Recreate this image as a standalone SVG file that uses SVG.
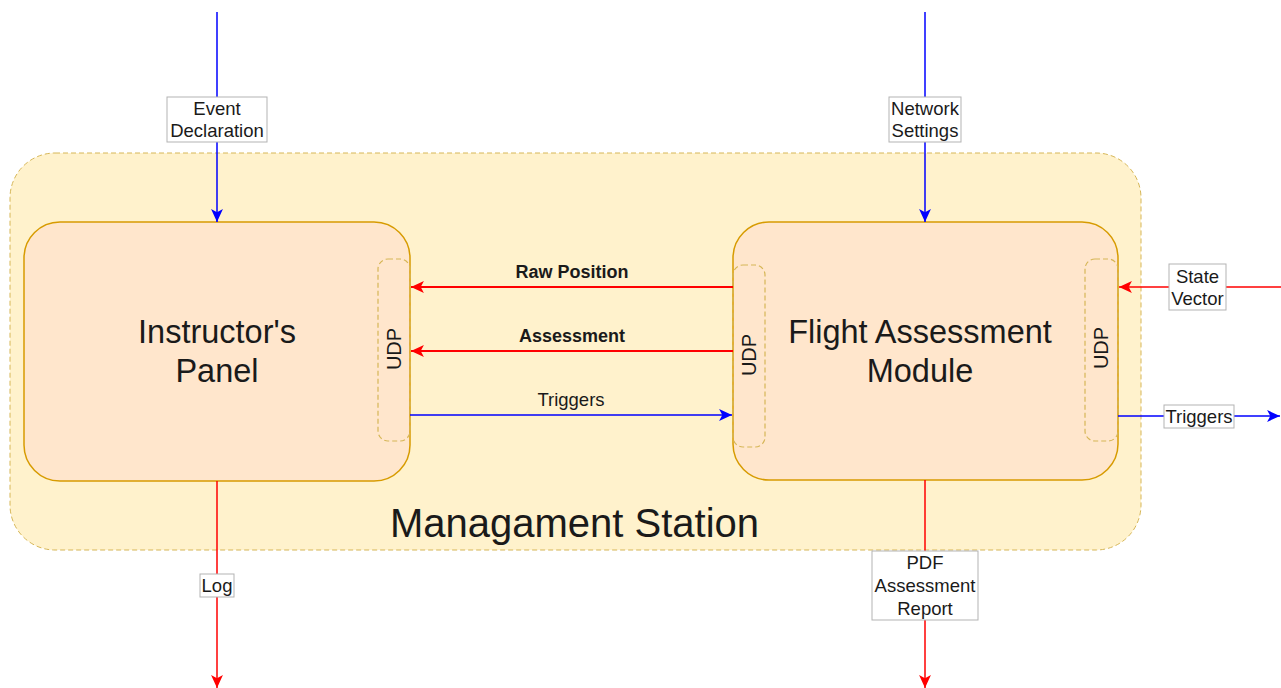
<svg xmlns="http://www.w3.org/2000/svg" width="1281" height="688" viewBox="0 0 1281 688">
  <style>
    text { font-family: "Liberation Sans", Arial, sans-serif; fill: #1a1a1a; }
    .station { fill: #fff2cc; stroke: #d6b656; stroke-width: 1; stroke-dasharray: 5 3; }
    .module { fill: #ffe6cc; stroke: #d79b00; stroke-width: 1.5; }
    .port { fill: none; stroke: #d6b656; stroke-width: 1.2; stroke-dasharray: 5 3; }
    .big { font-size: 32.5px; text-anchor: middle; }
    .title { font-size: 40px; text-anchor: middle; }
    .udp { font-size: 20px; text-anchor: middle; }
    .lbl { font-size: 18.5px; text-anchor: middle; }
    .lblb { font-size: 18px; font-weight: bold; text-anchor: middle; }
    .box { fill: #ffffff; stroke: #b3b3b3; stroke-width: 1; }
    .blue { stroke: #0000ff; stroke-width: 1.5; fill: none; }
    .red { stroke: #ff0000; stroke-width: 1.5; fill: none; }
    .redb { stroke: #ff0000; stroke-width: 2; fill: none; }
  </style>
  <defs>
    <marker id="ab" markerUnits="userSpaceOnUse" markerWidth="14" markerHeight="14" viewBox="0 0 13 12" refX="12" refY="6" orient="auto">
      <path d="M0,0.5 L12,6 L0,11.5 L3,6 z" fill="#0000ff"/>
    </marker>
    <marker id="ar" markerUnits="userSpaceOnUse" markerWidth="14" markerHeight="14" viewBox="0 0 13 12" refX="12" refY="6" orient="auto">
      <path d="M0,0.5 L12,6 L0,11.5 L3,6 z" fill="#ff0000"/>
    </marker>
  </defs>

  <!-- Management station container -->
  <g id="station">
    <rect class="station" x="10" y="153" width="1131" height="397" rx="45" ry="45"/>
    <text class="title" x="574.5" y="537">Managament Station</text>
  </g>

  <!-- Instructor's panel -->
  <g id="instructor-panel">
    <rect class="module" x="24" y="222" width="386" height="259" rx="36" ry="36"/>
    <text class="big" x="217" y="343">Instructor's</text>
    <text class="big" x="217" y="382">Panel</text>
  </g>
  <g id="instructor-udp">
    <rect class="port" x="378" y="259" width="32" height="182" rx="10" ry="10"/>
    <text class="udp" transform="translate(401 349) rotate(-90)">UDP</text>
  </g>

  <!-- Flight assessment module -->
  <g id="flight-assessment-module">
    <rect class="module" x="733" y="222" width="385" height="258" rx="36" ry="36"/>
    <text class="big" x="920" y="343">Flight Assessment</text>
    <text class="big" x="920" y="382">Module</text>
  </g>
  <g id="fam-udp-left">
    <rect class="port" x="733" y="265" width="32" height="182" rx="10" ry="10"/>
    <text class="udp" transform="translate(756 355) rotate(-90)">UDP</text>
  </g>
  <g id="fam-udp-right">
    <rect class="port" x="1085" y="259" width="33" height="182" rx="10" ry="10"/>
    <text class="udp" transform="translate(1108 348) rotate(-90)">UDP</text>
  </g>

  <!-- Connectors -->
  <g id="connectors">
    <!-- internal links -->
    <line class="redb" x1="733" y1="287" x2="411" y2="287" marker-end="url(#ar)"/>
    <text class="lblb" x="572" y="278">Raw Position</text>
    <line class="redb" x1="733" y1="351" x2="411" y2="351" marker-end="url(#ar)"/>
    <text class="lblb" x="572" y="342">Assessment</text>
    <line class="blue" x1="410" y1="415" x2="732" y2="415" marker-end="url(#ab)"/>
    <text class="lbl" x="571" y="406">Triggers</text>

    <!-- event declaration -->
    <line class="blue" x1="217" y1="12" x2="217" y2="222" marker-end="url(#ab)"/>
    <rect class="box" x="167" y="97" width="100" height="45"/>
    <text class="lbl" x="217" y="115">Event</text>
    <text class="lbl" x="217" y="137">Declaration</text>

    <!-- network settings -->
    <line class="blue" x1="925" y1="12" x2="925" y2="222" marker-end="url(#ab)"/>
    <rect class="box" x="889" y="97" width="72" height="45"/>
    <text class="lbl" x="925" y="115">Network</text>
    <text class="lbl" x="925" y="137">Settings</text>

    <!-- state vector -->
    <line class="red" x1="1281" y1="287" x2="1119" y2="287" marker-end="url(#ar)"/>
    <rect class="box" x="1169" y="264" width="57" height="46"/>
    <text class="lbl" x="1197.5" y="283">State</text>
    <text class="lbl" x="1197.5" y="305">Vector</text>

    <!-- outgoing triggers -->
    <line class="blue" x1="1118" y1="416" x2="1280" y2="416" marker-end="url(#ab)"/>
    <rect class="box" x="1164" y="405" width="70" height="23"/>
    <text class="lbl" x="1199" y="423">Triggers</text>

    <!-- log -->
    <line class="red" x1="217" y1="481" x2="217" y2="688" marker-end="url(#ar)"/>
    <rect class="box" x="200" y="574" width="34" height="23"/>
    <text class="lbl" x="217" y="592">Log</text>

    <!-- pdf report -->
    <line class="red" x1="925" y1="480" x2="925" y2="688" marker-end="url(#ar)"/>
    <rect class="box" x="872" y="551" width="106" height="69"/>
    <text class="lbl" x="925" y="569">PDF</text>
    <text class="lbl" x="925" y="592">Assessment</text>
    <text class="lbl" x="925" y="615">Report</text>
  </g>
</svg>
